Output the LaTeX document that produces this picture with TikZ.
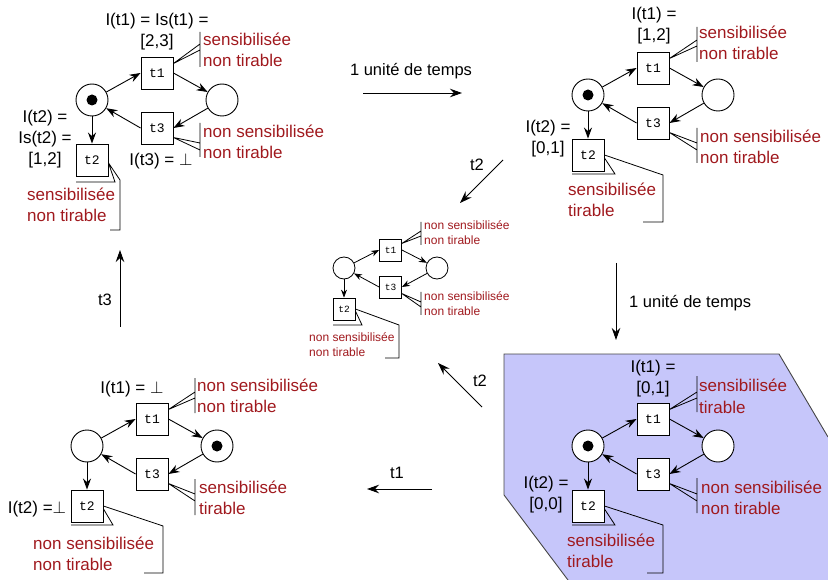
\documentclass[tikz,border=0pt]{standalone}
\usepackage{fontspec}
\setmainfont{Liberation Sans}
\setmonofont{Liberation Mono}
\usetikzlibrary{arrows.meta}
\definecolor{statered}{RGB}{160,25,30}
\definecolor{activefill}{RGB}{198,198,250}
\definecolor{activeedge}{RGB}{70,70,70}

\tikzset{
  place/.style={circle, draw, line width=0.9pt, minimum size=32pt, inner sep=0pt, fill=white},
  trans/.style={rectangle, draw, line width=0.9pt, minimum size=32pt, inner sep=0pt, fill=white,
                font=\fontsize{13}{13}\ttfamily},
  splace/.style={place, line width=0.8pt, minimum size=22pt},
  strans/.style={trans, line width=0.8pt, minimum size=22pt, font=\fontsize{9.5}{9.5}\ttfamily},
  arc/.style={line width=0.9pt, -{Stealth[length=11pt,width=8pt]}},
  sarc/.style={line width=0.8pt, -{Stealth[length=8pt,width=6pt]}},
  moveline/.style={line width=0.9pt, -{Stealth[length=12pt,width=8.5pt]}},
  hook/.style={line width=0.8pt},
  % multi-line nodes: the base anchor sits on the baseline of the last line
  info/.style={font=\fontsize{17}{21}\selectfont, align=center, inner sep=0pt, anchor=base},
  state/.style={font=\fontsize{17}{21}\selectfont, text=statered, align=left, inner sep=0pt, anchor=base west},
  sstate/.style={state, font=\fontsize{12}{15}\selectfont},
  caption/.style={font=\fontsize{16.5}{20}\selectfont, inner sep=0pt, anchor=base},
}

% one copy of the net: places p1, p2 and transitions t1, t2, t3
\newcommand\netat[1]{%
  \node[place] (#1p1) at (92,100) {};
  \node[place] (#1p2) at (222,100) {};
  \node[trans] (#1t1) at (157,73) {t1};
  \node[trans] (#1t3) at (157,128) {t3};
  \node[trans] (#1t2) at (92,160) {t2};
  \draw[arc] (#1p1) -- (#1t1.west);
  \draw[arc] (#1t1.east) -- (#1p2);
  \draw[arc] (#1p2) -- (#1t3.east);
  \draw[arc] (#1t3.west) -- (#1p1);
  \draw[arc] (#1p1) -- (#1t2);
}

\begin{document}
\begin{tikzpicture}[x=1pt, y=-1pt]
\useasboundingbox (0,0) rectangle (828,580);

% highlighted state (bottom right)
\fill[activefill] (504,354) -- (779,354) -- (840,457) -- (840,590) -- (575.5,590) -- (504,495) -- cycle;
\draw[activeedge, line width=0.9pt] (568,580) -- (504,495) -- (504,354) -- (779,354) -- (828,437);

% ---------- state 1 (top left) ----------
\begin{scope}\netat{a}\end{scope}
\fill (ap1) circle (5.5pt);
\node[info] (aI1) at (157,47) {I(t1) = Is(t1) =\\{[2,3]}};
\node[info] (aI2) at (45,165) {I(t2) =\\Is(t2) =\\{[1,2]}};
\node[info] (aI3) at (161,166) {I(t3) = $\perp$};
\node[state] (aS1) at (203,67) {sensibilisée\\non tirable};
\node[state] (aS3) at (203,159) {non sensibilisée\\non tirable};
\node[state] (aS2) at (27,222) {sensibilisée\\non tirable};
\draw[hook] (at1.30) -- (200,44) (at1.30) -- (200,50) (200,32) -- (200,67);
\draw[hook] (at3.-30) -- (200,143) (at3.-30) -- (200,150) (200,123) -- (200,157);
\draw[hook] (at2.-10) -- (115,182) -- (76,182) (at2.-10) -- (120,180) -- (120,230) -- (110,230);

% ---------- state 2 (top right) ----------
\begin{scope}[shift={(496,-5)}]\netat{b}\end{scope}
\fill (bp1) circle (5.5pt);
\node[info] (bI1) at (654,41) {I(t1) =\\{[1,2]}};
\node[info] (bI2) at (548,154) {I(t2) =\\{[0,1]}};
\node[state] (bS1) at (699,60) {sensibilisée\\non tirable};
\node[state] (bS3) at (700,164) {non sensibilisée\\non tirable};
\node[state] (bS2) at (568,217) {sensibilisée\\tirable};
\draw[hook] (bt1.30) -- (697,40) (bt1.30) -- (697,46) (697,27) -- (697,62);
\draw[hook] (bt3.-30) -- (697,143) (bt3.-30) -- (697,150) (697,128) -- (697,163);
\draw[hook] (bt2.-10) -- (615,174) -- (572,174) (bt2.east) -- (663,175) -- (663,222) -- (643,222);

% ---------- state 3 (centre, small) ----------
\node[splace] (cp1) at (344,268) {};
\node[splace] (cp2) at (437,268) {};
\node[strans] (ct1) at (390.5,250) {t1};
\node[strans] (ct3) at (390.5,287) {t3};
\node[strans] (ct2) at (344,309) {t2};
\draw[sarc] (cp1) -- (ct1.west);
\draw[sarc] (ct1.east) -- (cp2);
\draw[sarc] (cp2) -- (ct3.east);
\draw[sarc] (ct3.west) -- (cp1);
\draw[sarc] (cp1) -- (ct2);
\node[sstate] (cS1) at (424,245) {non sensibilisée\\non tirable};
\node[sstate] (cS3) at (424,316) {non sensibilisée\\non tirable};
\node[sstate] (cS2) at (309,356) {non sensibilisée\\non tirable};
\draw[hook] (ct1.30) -- (421,231) (ct1.30) -- (421,236) (421,222) -- (421,245);
\draw[hook] (ct3.-30) -- (421,302) (ct3.-30) -- (421,307) (421,292) -- (421,315);
\draw[hook] (ct2.-10) -- (362,325) -- (333,325) (ct2.east) -- (399,325) -- (399,358) -- (385,358);

% ---------- state 4 (bottom right) ----------
\begin{scope}[shift={(496,346)}]\netat{d}\end{scope}
\fill (dp1) circle (5.5pt);
\node[info] (dI1) at (653,393) {I(t1) =\\{[0,1]}};
\node[info] (dI2) at (546,509) {I(t2) =\\{[0,0]}};
\node[state] (dS1) at (699,413) {sensibilisée\\tirable};
\node[state] (dS3) at (701,514) {non sensibilisée\\non tirable};
\node[state] (dS2) at (567,567) {sensibilisée\\tirable};
\draw[hook] (dt1.30) -- (697,392) (dt1.30) -- (697,398) (697,376) -- (697,412);
\draw[hook] (dt3.-30) -- (697,494) (dt3.-30) -- (697,501) (697,478) -- (697,513);
\draw[hook] (dt2.-10) -- (615,525) -- (572,525) (dt2.east) -- (663,525) -- (663,573) -- (647,573);

% ---------- state 5 (bottom left) ----------
\begin{scope}[shift={(-5,346)}]\netat{e}\end{scope}
\fill (ep2) circle (5.5pt);
\node[info] (eI1) at (132,393) {I(t1) = $\perp$};
\node[info] (eI2) at (37,513) {I(t2) =$\perp$};
\node[state] (eS1) at (197,412) {non sensibilisée\\non tirable};
\node[state] (eS3) at (199,514) {sensibilisée\\tirable};
\node[state] (eS2) at (33,570) {non sensibilisée\\non tirable};
\draw[hook] (et1.30) -- (195,392) (et1.30) -- (195,398) (195,378) -- (195,413);
\draw[hook] (et3.-30) -- (195,494) (et3.-30) -- (195,501) (195,479) -- (195,515);
\draw[hook] (et2.-10) -- (113,525) -- (71,525) (et2.east) -- (163,526) -- (163,573) -- (144,573);

% ---------- evolutions between states ----------
\coordinate (m1a) at (363,93);  \coordinate (m1b) at (462,93);
\draw[moveline] (m1a) -- (m1b);
\node[caption] (m1t) at (411,76) {1 unité de temps};

\coordinate (m2a) at (503,160); \coordinate (m2b) at (460,203);
\draw[moveline] (m2a) -- (m2b);
\node[caption] (m2t) at (477,171) {t2};

\coordinate (m3a) at (616,263); \coordinate (m3b) at (616,340);
\draw[moveline] (m3a) -- (m3b);
\node[caption, anchor=base west] (m3t) at (629,308) {1 unité de temps};

\coordinate (m4a) at (482,407); \coordinate (m4b) at (438,363);
\draw[moveline] (m4a) -- (m4b);
\node[caption] (m4t) at (480,386) {t2};

\coordinate (m5a) at (432,489); \coordinate (m5b) at (367,489);
\draw[moveline] (m5a) -- (m5b);
\node[caption] (m5t) at (397,478) {t1};

\coordinate (m6a) at (120,327); \coordinate (m6b) at (120,250);
\draw[moveline] (m6a) -- (m6b);
\node[caption] (m6t) at (105,306) {t3};
\end{tikzpicture}
\end{document}
